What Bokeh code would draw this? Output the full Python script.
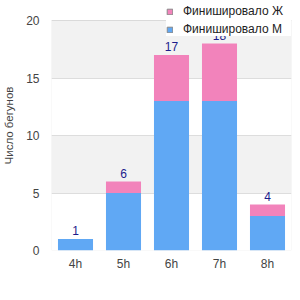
from bokeh.plotting import figure
from bokeh.models import (ColumnDataSource, FixedTicker, Legend, LegendItem, LabelSet,
                          BoxAnnotation)
from bokeh.core.properties import value
from bokeh.embed import file_html
from bokeh.resources import INLINE

categories = ["4h", "5h", "6h", "7h", "8h"]
finished_m = [1, 5, 13, 13, 3]
finished_f = [0, 1, 4, 5, 1]
totals = [m + f for m, f in zip(finished_m, finished_f)]
y_ticks = [0, 5, 10, 15, 20]
y_max = 20
y_label = "Число бегунов"
name_m = "Финишировало М"
name_f = "Финишировало Ж"

color_m = "#60a8f4"
color_f = "#f283bb"
FONT = "Liberation Sans"

W, H = 300, 300
left, right, top, bottom = 51, 9, 0, 50
plot_top_px = 20  # white gap above the value axis maximum
frame_h = H - top - bottom
y_end = y_max * frame_h / (frame_h - plot_top_px)

src = ColumnDataSource(dict(cat=categories, m=finished_m, f=finished_f,
                            total=totals, total_str=[str(t) for t in totals]))

p = figure(x_range=categories, y_range=(0, y_end), width=W, height=H,
           output_backend="svg", toolbar_location=None,
           min_border_left=left, min_border_right=right,
           min_border_top=top, min_border_bottom=bottom)

rs = p.vbar_stack(["m", "f"], x="cat", width=0.73, color=[color_m, color_f],
                  line_color=None, source=src)

# hidden legend proxies so the legend squares get a grey border
proxy_m = p.vbar(x="cat", top="m", source=src, width=0.73, fill_color=color_m,
                 line_color="#888888", visible=False)
proxy_f = p.vbar(x="cat", top="f", source=src, width=0.73, fill_color=color_f,
                 line_color="#888888", visible=False)

labels = LabelSet(x="cat", y="total", text="total_str", source=src,
                  text_align="center", text_baseline="alphabetic", y_offset=4,
                  text_font=value(FONT), text_font_size=value("12px"),
                  text_color="#1c1c8c")
p.add_layout(labels)

p.xgrid.visible = False
p.ygrid.ticker = FixedTicker(ticks=y_ticks)
p.ygrid.grid_line_color = "#dddddd"
p.ygrid.band_fill_color = "#f2f2f2"
p.ygrid.band_fill_alpha = 1.0

p.outline_line_color = None
frame_box = BoxAnnotation(bottom=0, top=y_max, fill_color=None, fill_alpha=0,
                          line_color="#d4d4d4", line_width=1)
p.add_layout(frame_box)

p.background_fill_color = "white"
p.border_fill_color = "white"

p.yaxis.ticker = FixedTicker(ticks=y_ticks)
for ax in (p.xaxis[0], p.yaxis[0]):
    ax.axis_line_color = None
    ax.major_tick_line_color = None
    ax.minor_tick_line_color = None
    ax.major_tick_out = 0
    ax.major_tick_in = 0
    ax.minor_tick_out = 0
    ax.minor_tick_in = 0
    ax.major_label_text_font = FONT
    ax.major_label_text_font_size = "12px"
    ax.major_label_text_color = "#444444"
p.yaxis.major_label_standoff = 12
p.xaxis.major_label_standoff = 6
p.yaxis.axis_label = y_label
p.yaxis.axis_label_text_font = FONT
p.yaxis.axis_label_text_font_size = "11.5px"
p.yaxis.axis_label_text_font_style = "normal"
p.yaxis.axis_label_text_color = "#444444"
p.yaxis.axis_label_standoff = 8

legend = Legend(items=[LegendItem(label=name_f, renderers=[proxy_f]),
                       LegendItem(label=name_m, renderers=[proxy_m])],
                location=(115, 214), margin=0, padding=5, spacing=4,
                glyph_width=7, glyph_height=7, label_height=12, label_width=110,
                label_standoff=10, label_text_font=FONT, label_text_font_size="12px",
                label_text_color="#222222", border_line_color=None,
                background_fill_color="white", background_fill_alpha=1.0)
p.add_layout(legend, "center")

open("out.html", "w").write(file_html(p, INLINE))
